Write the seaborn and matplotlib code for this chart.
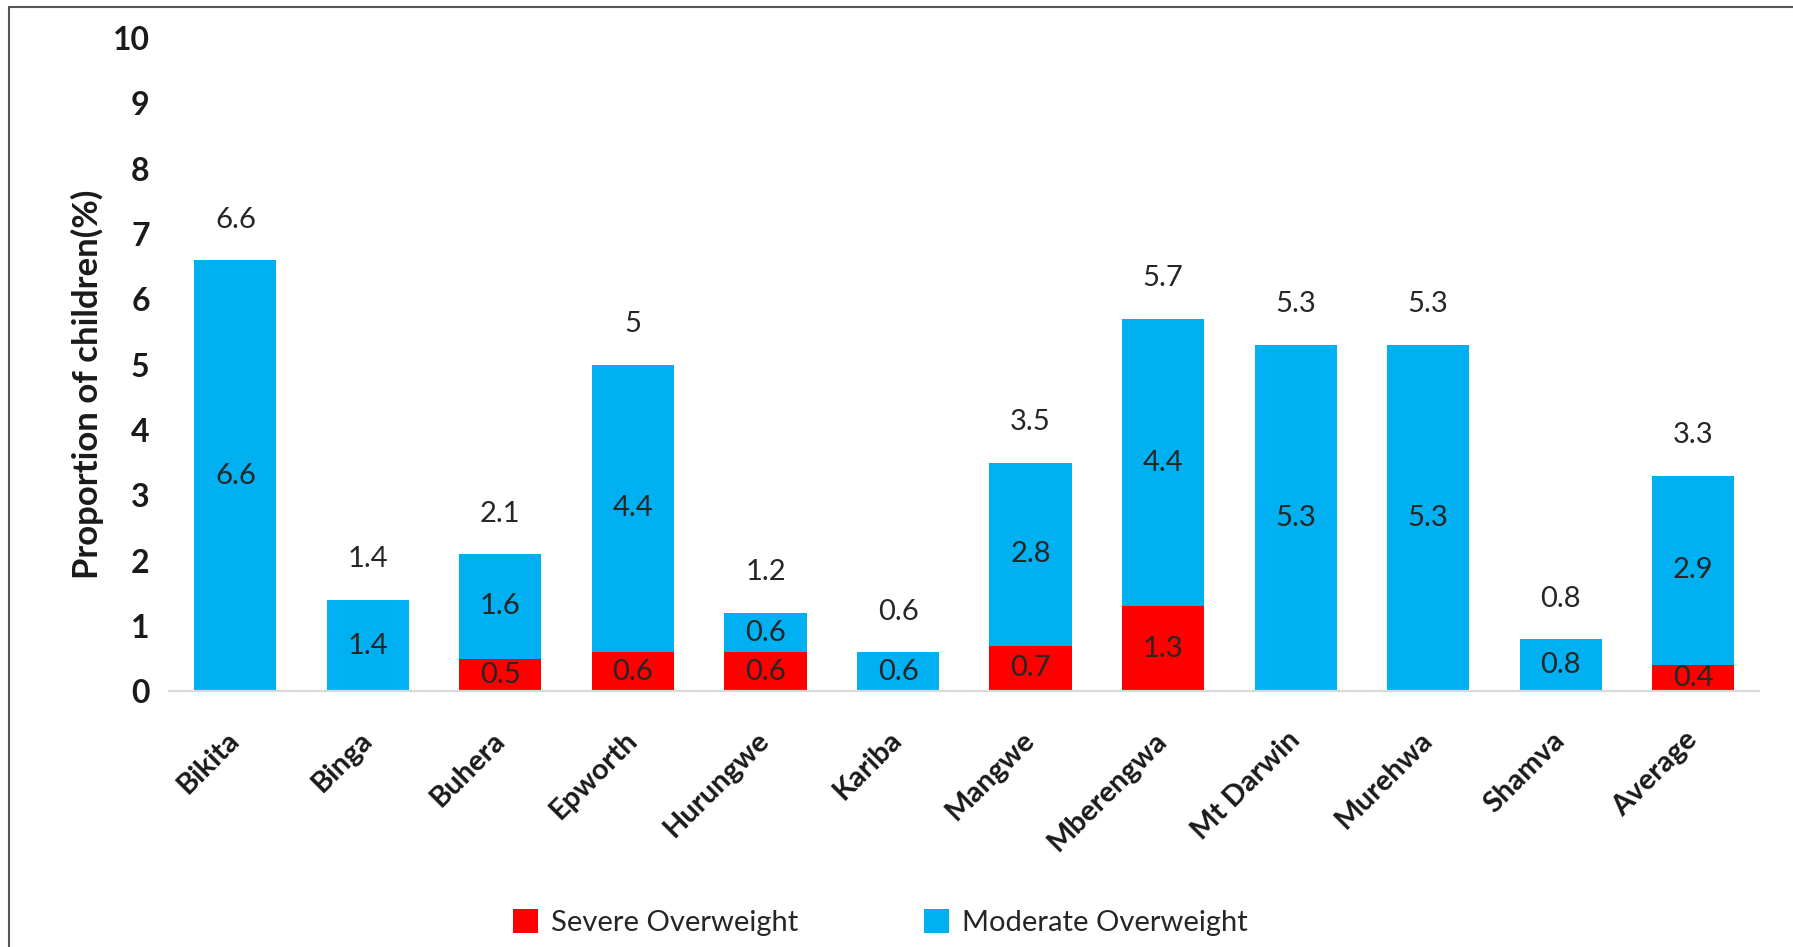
import matplotlib
matplotlib.use("Agg")
import matplotlib.pyplot as plt
import seaborn as sns
import pandas as pd
from matplotlib.patches import Patch
from matplotlib.lines import Line2D

districts = ["Bikita", "Binga", "Buhera", "Epworth", "Hurungwe", "Kariba",
             "Mangwe", "Mberengwa", "Mt Darwin", "Murehwa", "Shamva", "Average"]
severe = [0, 0, 0.5, 0.6, 0.6, 0, 0.7, 1.3, 0, 0, 0, 0.4]
moderate = [6.6, 1.4, 1.6, 4.4, 0.6, 0.6, 2.8, 4.4, 5.3, 5.3, 0.8, 2.9]
totals = [6.6, 1.4, 2.1, 5, 1.2, 0.6, 3.5, 5.7, 5.3, 5.3, 0.8, 3.3]
yticks = [0, 1, 2, 3, 4, 5, 6, 7, 8, 9, 10]

BLUE = "#00B0F0"
RED = "#FF0000"

sns.set_theme(style="white")
plt.rcParams["font.family"] = ["Lato", "DejaVu Sans"]

df = pd.DataFrame({"district": districts, "severe": severe,
                   "moderate": moderate, "total": totals})

fig = plt.figure(figsize=(17.93, 9.47), dpi=100)
ax = fig.add_axes([0.0943, 0.270, 0.887, 0.690])

sns.barplot(data=df, x="district", y="total", color=BLUE, width=0.62,
            saturation=1, ax=ax, linewidth=0)
sns.barplot(data=df, x="district", y="severe", color=RED, width=0.62,
            saturation=1, ax=ax, linewidth=0)

ax.set_xlim(-0.5, len(districts) - 0.5)
ax.set_ylim(0, 10)
ax.set_yticks(yticks)
ax.set_yticklabels([str(t) for t in yticks], fontsize=23, fontweight="bold",
                   color="#1a1a1a")
ax.tick_params(axis="y", length=0, pad=14)
ax.tick_params(axis="x", length=0, pad=4)

ax.set_xticks(range(len(districts)))
ax.set_xticklabels(districts, rotation=45, ha="right", va="center",
                   rotation_mode="anchor", fontsize=21, fontweight="bold",
                   color="#1a1a1a")
for lbl in ax.get_xticklabels():
    lbl.set_y(-0.06)

ax.set_xlabel("")
ax.set_ylabel("Proportion of children(%)", fontsize=25, fontweight="bold",
              color="#1a1a1a")
ax.yaxis.set_label_coords(-0.041, 0.47)

for s in ["top", "right", "left"]:
    ax.spines[s].set_visible(False)
ax.spines["bottom"].set_color("#d9d9d9")
ax.spines["bottom"].set_linewidth(1.6)

for i in range(len(districts)):
    if severe[i] > 0:
        ax.text(i, severe[i] / 2, f"{severe[i]:g}", ha="center", va="center",
                fontsize=21, color="#262626")
    ax.text(i, severe[i] + moderate[i] / 2, f"{moderate[i]:g}", ha="center",
            va="center", fontsize=21, color="#262626")
    ax.text(i, totals[i] + 0.62, f"{totals[i]:g}", ha="center", va="center",
            fontsize=21, color="#262626")

handles = [Patch(facecolor=RED, edgecolor="none", label="Severe Overweight"),
           Patch(facecolor=BLUE, edgecolor="none", label="Moderate Overweight")]
fig.legend(handles=handles, loc="center", bbox_to_anchor=(0.491, 0.026),
           ncol=2, frameon=False, fontsize=21, handlelength=0.85,
           handleheight=0.9, handletextpad=0.45, columnspacing=4.3,
           labelcolor="#262626")

# figure border (top and left edges)
fig.add_artist(Line2D([0.005, 1.0], [0.9925, 0.9925], transform=fig.transFigure,
                      color="#555555", lw=1.5))
fig.add_artist(Line2D([0.005, 0.005], [0.0, 0.9925], transform=fig.transFigure,
                      color="#555555", lw=1.5))

fig.savefig("out.png", dpi=100, facecolor="white")
